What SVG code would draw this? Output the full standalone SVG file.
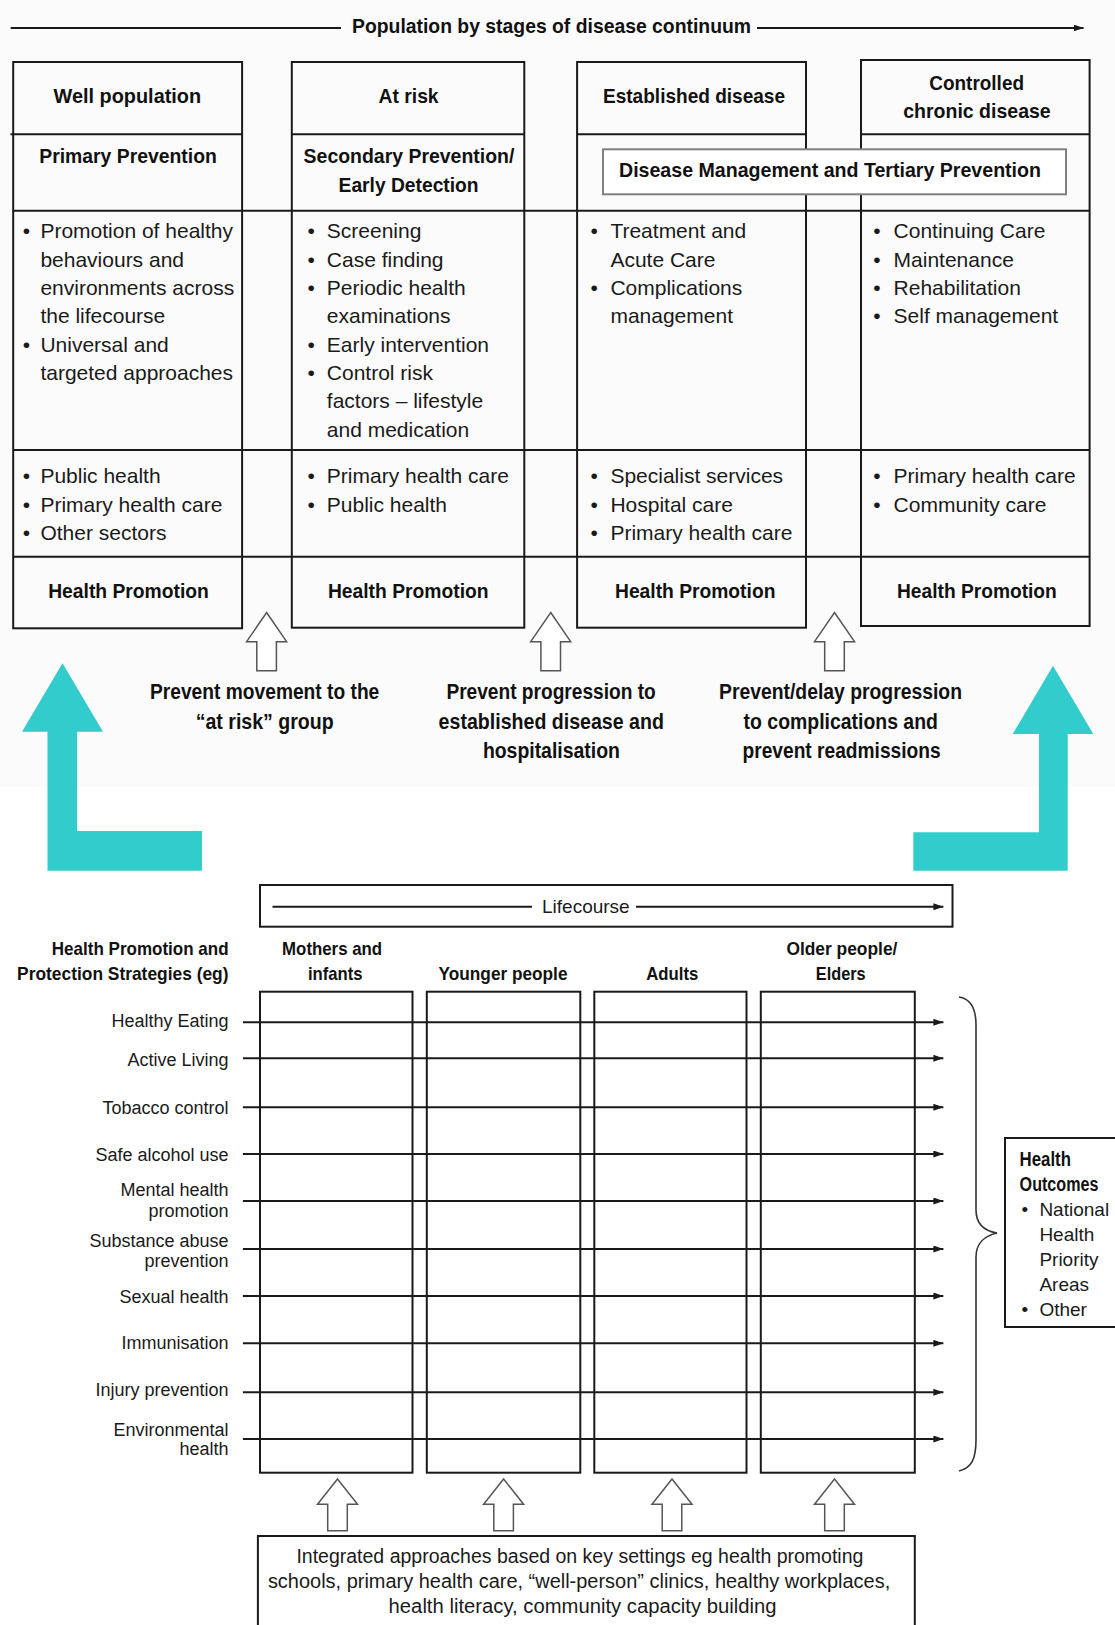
<svg xmlns="http://www.w3.org/2000/svg" width="1115" height="1625" viewBox="0 0 1115 1625">
<style>
.h{font-family:"Liberation Sans Narrow","Liberation Sans",Arial,sans-serif;font-weight:bold;fill:#111}
.b{font-family:"Liberation Sans",Arial,sans-serif;fill:#1a1a1a}
.t21{font-size:21px}
.t22{font-size:22px}
.t19{font-size:19px}
.t18{font-size:18px}
.box{fill:none;stroke:#1a1a1a;stroke-width:2}
.ln{fill:none;stroke:#1a1a1a;stroke-width:2}
.hollow{fill:#fff;stroke:#555;stroke-width:1.5;stroke-linejoin:miter}
.teal{fill:#33cccc}
</style>
<defs>
<marker id="ah" markerUnits="userSpaceOnUse" markerWidth="11" markerHeight="8" refX="10" refY="3.5" orient="auto">
<path d="M0,0 L10,3.5 L0,7 z" fill="#1a1a1a"/>
</marker>
</defs>
<rect x="0" y="0" width="1115" height="787" fill="#fbfbfb"/>
<rect x="0" y="787" width="1115" height="838" fill="#ffffff"/>

<g id="continuum-title">
<text class="h t21" x="352" y="33.3" textLength="399" lengthAdjust="spacingAndGlyphs">Population by stages of disease continuum</text>
</g>

<g id="col-well">
<rect class="box" x="13.2" y="62" width="228.9" height="566.3"/>
<line class="ln" x1="10.5" y1="134.3" x2="242.1" y2="134.3"/>
<text class="h t21" x="53.6" y="103.3" textLength="147.5" lengthAdjust="spacingAndGlyphs">Well population</text>
<text class="h t21" x="39.3" y="163.3" textLength="177.5" lengthAdjust="spacingAndGlyphs">Primary Prevention</text>
<text class="b t21"><tspan x="22.8" y="238.3">•</tspan><tspan x="40.4" y="238.3">Promotion of healthy</tspan><tspan x="40.4" y="266.7">behaviours and</tspan><tspan x="40.4" y="295">environments across</tspan><tspan x="40.4" y="323.3">the lifecourse</tspan><tspan x="22.8" y="351.7">•</tspan><tspan x="40.4" y="351.7">Universal and</tspan><tspan x="40.4" y="380">targeted approaches</tspan></text>
<text class="b t21"><tspan x="22.8" y="483.3">•</tspan><tspan x="40.4" y="483.3">Public health</tspan><tspan x="22.8" y="511.7">•</tspan><tspan x="40.4" y="511.7">Primary health care</tspan><tspan x="22.8" y="540">•</tspan><tspan x="40.4" y="540">Other sectors</tspan></text>
<text class="h t21" x="48.2" y="598.3" textLength="160.7" lengthAdjust="spacingAndGlyphs">Health Promotion</text>
</g>

<g id="col-atrisk">
<rect class="box" x="291.8" y="62" width="232.5" height="565.7"/>
<line class="ln" x1="291.8" y1="134.3" x2="524.3" y2="134.3"/>
<text class="h t21" x="378.6" y="103.3" textLength="60" lengthAdjust="spacingAndGlyphs">At risk</text>
<text class="h t21" x="303.6" y="163.3" textLength="210.7" lengthAdjust="spacingAndGlyphs">Secondary Prevention/</text>
<text class="h t21" x="338.6" y="191.7" textLength="140" lengthAdjust="spacingAndGlyphs">Early Detection</text>
<text class="b t21"><tspan x="307.5" y="238.3">•</tspan><tspan x="326.8" y="238.3">Screening</tspan><tspan x="307.5" y="266.7">•</tspan><tspan x="326.8" y="266.7">Case finding</tspan><tspan x="307.5" y="295">•</tspan><tspan x="326.8" y="295">Periodic health</tspan><tspan x="326.8" y="323.3">examinations</tspan><tspan x="307.5" y="351.7">•</tspan><tspan x="326.8" y="351.7">Early intervention</tspan><tspan x="307.5" y="380">•</tspan><tspan x="326.8" y="380">Control risk</tspan><tspan x="326.8" y="408.3">factors – lifestyle</tspan><tspan x="326.8" y="436.7">and medication</tspan></text>
<text class="b t21"><tspan x="307.5" y="483.3">•</tspan><tspan x="326.8" y="483.3">Primary health care</tspan><tspan x="307.5" y="511.7">•</tspan><tspan x="326.8" y="511.7">Public health</tspan></text>
<text class="h t21" x="327.9" y="598.3" textLength="160.7" lengthAdjust="spacingAndGlyphs">Health Promotion</text>
</g>

<g id="col-established">
<rect class="box" x="577.1" y="62" width="228.9" height="565.7"/>
<line class="ln" x1="577.1" y1="134.3" x2="806" y2="134.3"/>
<text class="h t21" x="603" y="103.3" textLength="182" lengthAdjust="spacingAndGlyphs">Established disease</text>
<text class="b t21"><tspan x="590.5" y="238.3">•</tspan><tspan x="610.4" y="238.3">Treatment and</tspan><tspan x="610.4" y="266.7">Acute Care</tspan><tspan x="590.5" y="295">•</tspan><tspan x="610.4" y="295">Complications</tspan><tspan x="610.4" y="323.3">management</tspan></text>
<text class="b t21"><tspan x="590.5" y="483.3">•</tspan><tspan x="610.4" y="483.3">Specialist services</tspan><tspan x="590.5" y="511.7">•</tspan><tspan x="610.4" y="511.7">Hospital care</tspan><tspan x="590.5" y="540">•</tspan><tspan x="610.4" y="540">Primary health care</tspan></text>
<text class="h t21" x="615" y="598.3" textLength="160.4" lengthAdjust="spacingAndGlyphs">Health Promotion</text>
</g>

<g id="col-controlled">
<rect class="box" x="861" y="60" width="228.6" height="566"/>
<line class="ln" x1="861" y1="134.3" x2="1089.6" y2="134.3"/>
<text class="h t21" x="929.3" y="90" textLength="94.7" lengthAdjust="spacingAndGlyphs">Controlled</text>
<text class="h t21" x="903.2" y="118.3" textLength="147.5" lengthAdjust="spacingAndGlyphs">chronic disease</text>
<text class="b t21"><tspan x="873.2" y="238.3">•</tspan><tspan x="893.6" y="238.3">Continuing Care</tspan><tspan x="873.2" y="266.7">•</tspan><tspan x="893.6" y="266.7">Maintenance</tspan><tspan x="873.2" y="295">•</tspan><tspan x="893.6" y="295">Rehabilitation</tspan><tspan x="873.2" y="323.3">•</tspan><tspan x="893.6" y="323.3">Self management</tspan></text>
<text class="b t21"><tspan x="873.2" y="483.3">•</tspan><tspan x="893.6" y="483.3">Primary health care</tspan><tspan x="873.2" y="511.7">•</tspan><tspan x="893.6" y="511.7">Community care</tspan></text>
<text class="h t21" x="897" y="598.3" textLength="159.8" lengthAdjust="spacingAndGlyphs">Health Promotion</text>
</g>

<g id="row-lines">
<line class="ln" x1="13.2" y1="210.7" x2="1089.6" y2="210.7"/>
<line class="ln" x1="13.2" y1="450" x2="1089.6" y2="450"/>
<line class="ln" x1="13.2" y1="556.7" x2="1089.6" y2="556.7"/>
</g>

<g id="disease-management">
<rect x="603" y="149.3" width="463" height="45" fill="#fff" stroke="#808080" stroke-width="2"/>
<text class="h t21" x="619" y="176.7" textLength="422" lengthAdjust="spacingAndGlyphs">Disease Management and Tertiary Prevention</text>
</g>

<g id="labels-prevent">
<text class="h t22" x="150" y="699" textLength="229.3" lengthAdjust="spacingAndGlyphs">Prevent movement to the</text>
<text class="h t22" x="195.7" y="729" textLength="138" lengthAdjust="spacingAndGlyphs">“at risk” group</text>
<text class="h t22" x="446.4" y="699" textLength="209.3" lengthAdjust="spacingAndGlyphs">Prevent progression to</text>
<text class="h t22" x="438.6" y="729" textLength="225.3" lengthAdjust="spacingAndGlyphs">established disease and</text>
<text class="h t22" x="482.9" y="758" textLength="137" lengthAdjust="spacingAndGlyphs">hospitalisation</text>
<text class="h t22" x="719" y="699" textLength="243" lengthAdjust="spacingAndGlyphs">Prevent/delay progression</text>
<text class="h t22" x="743.6" y="729" textLength="194.3" lengthAdjust="spacingAndGlyphs">to complications and</text>
<text class="h t22" x="742.5" y="758" textLength="198.2" lengthAdjust="spacingAndGlyphs">prevent readmissions</text>
</g>

<g id="lifecourse">
<rect class="box" x="260" y="885" width="692.5" height="41.7"/>
<text class="b t19" x="542" y="913.3">Lifecourse</text>
</g>

<g id="strategy-headers">
<text class="h t19" x="51.8" y="955" textLength="176.8" lengthAdjust="spacingAndGlyphs">Health Promotion and</text>
<text class="h t19" x="17.1" y="979.5" textLength="211.4" lengthAdjust="spacingAndGlyphs">Protection Strategies (eg)</text>
<text class="h t19" x="282.1" y="955" textLength="100" lengthAdjust="spacingAndGlyphs">Mothers and</text>
<text class="h t19" x="307.9" y="979.5" textLength="54.6" lengthAdjust="spacingAndGlyphs">infants</text>
<text class="h t19" x="438.6" y="979.5" textLength="128.9" lengthAdjust="spacingAndGlyphs">Younger people</text>
<text class="h t19" x="646.3" y="979.5" textLength="52" lengthAdjust="spacingAndGlyphs">Adults</text>
<text class="h t19" x="786.4" y="955" textLength="111" lengthAdjust="spacingAndGlyphs">Older people/</text>
<text class="h t19" x="815.8" y="979.5" textLength="49.8" lengthAdjust="spacingAndGlyphs">Elders</text>
</g>

<g id="strategy-labels">
<text class="b t18" text-anchor="end" x="228.6" y="1026.7">Healthy Eating</text>
<text class="b t18" text-anchor="end" x="228.6" y="1066">Active Living</text>
<text class="b t18" text-anchor="end" x="228.6" y="1114.3">Tobacco control</text>
<text class="b t18" text-anchor="end" x="228.6" y="1160.7">Safe alcohol use</text>
<text class="b t18" text-anchor="end"><tspan x="228.6" y="1196">Mental health</tspan><tspan x="228.6" y="1216.7">promotion</tspan></text>
<text class="b t18" text-anchor="end"><tspan x="228.6" y="1246.7">Substance abuse</tspan><tspan x="228.6" y="1266.7">prevention</tspan></text>
<text class="b t18" text-anchor="end" x="228.6" y="1302.7">Sexual health</text>
<text class="b t18" text-anchor="end" x="228.6" y="1349.3">Immunisation</text>
<text class="b t18" text-anchor="end" x="228.6" y="1396">Injury prevention</text>
<text class="b t18" text-anchor="end"><tspan x="228.6" y="1435.7">Environmental</tspan><tspan x="228.6" y="1455">health</tspan></text>
</g>

<g id="grid-mothers"><rect class="box" x="260" y="991.7" width="152.5" height="481"/></g>
<g id="grid-younger"><rect class="box" x="426.8" y="991.7" width="153.5" height="481"/></g>
<g id="grid-adults"><rect class="box" x="594.3" y="991.7" width="152.2" height="481"/></g>
<g id="grid-older"><rect class="box" x="760.8" y="991.7" width="154" height="481"/></g>

<g id="health-outcomes">
<rect class="box" x="1005" y="1138" width="120" height="189"/>
<text class="h" font-size="20" x="1019.6" y="1166" textLength="51.3" lengthAdjust="spacingAndGlyphs">Health</text>
<text class="h" font-size="20" x="1019.6" y="1191" textLength="78.8" lengthAdjust="spacingAndGlyphs">Outcomes</text>
<text class="b t19"><tspan x="1021.5" y="1216">•</tspan><tspan x="1039.4" y="1216">National</tspan><tspan x="1039.4" y="1241">Health</tspan><tspan x="1039.4" y="1266">Priority</tspan><tspan x="1039.4" y="1291">Areas</tspan><tspan x="1021.5" y="1316">•</tspan><tspan x="1039.4" y="1316">Other</tspan></text>
</g>

<g id="settings">
<rect class="box" x="257.9" y="1536" width="656.9" height="100"/>
<text class="b" font-size="19.5" x="296.4" y="1563.3" textLength="567" lengthAdjust="spacingAndGlyphs">Integrated approaches based on key settings eg health promoting</text>
<text class="b" font-size="19.5" x="267.9" y="1588.3" textLength="622.3" lengthAdjust="spacingAndGlyphs">schools, primary health care, “well-person” clinics, healthy workplaces,</text>
<text class="b" font-size="19.5" x="388.6" y="1613.3" textLength="387.9" lengthAdjust="spacingAndGlyphs">health literacy, community capacity building</text>
</g>

<g id="connectors">
<line class="ln" x1="10.7" y1="28" x2="341" y2="28" stroke-width="1.8"/>
<line class="ln" x1="757" y1="28" x2="1083.6" y2="28" stroke-width="1.8" marker-end="url(#ah)"/>
<line class="ln" x1="272.5" y1="906.7" x2="532" y2="906.7" stroke-width="1.6"/>
<line class="ln" x1="636" y1="906.7" x2="943.4" y2="906.7" stroke-width="1.6" marker-end="url(#ah)"/>
<g stroke-width="2">
<line class="ln" x1="242.9" y1="1022.3" x2="943.4" y2="1022.3" marker-end="url(#ah)"/>
<line class="ln" x1="242.9" y1="1058.3" x2="943.4" y2="1058.3" marker-end="url(#ah)"/>
<line class="ln" x1="242.9" y1="1107.3" x2="943.4" y2="1107.3" marker-end="url(#ah)"/>
<line class="ln" x1="242.9" y1="1154" x2="943.4" y2="1154" marker-end="url(#ah)"/>
<line class="ln" x1="242.9" y1="1201" x2="943.4" y2="1201" marker-end="url(#ah)"/>
<line class="ln" x1="242.9" y1="1249" x2="943.4" y2="1249" marker-end="url(#ah)"/>
<line class="ln" x1="242.9" y1="1296" x2="943.4" y2="1296" marker-end="url(#ah)"/>
<line class="ln" x1="242.9" y1="1343.3" x2="943.4" y2="1343.3" marker-end="url(#ah)"/>
<line class="ln" x1="242.9" y1="1392.3" x2="943.4" y2="1392.3" marker-end="url(#ah)"/>
<line class="ln" x1="242.9" y1="1439" x2="943.4" y2="1439" marker-end="url(#ah)"/>
</g>
<path d="M959,997 C972,999 976,1010 976,1025 L976,1210 C976,1225 985,1231 997,1233 C985,1236 976,1242 976,1257 L976,1440 C976,1458 972,1468 959,1471" fill="none" stroke="#333" stroke-width="1.6"/>
<polygon class="hollow" points="266.6,612.5 286.6,641.7 276.4,641.7 276.4,670.7 256.8,670.7 256.8,641.7 246.6,641.7"/>
<polygon class="hollow" points="550.7,612.5 570.7,641.7 560.5,641.7 560.5,670.7 540.9,670.7 540.9,641.7 530.7,641.7"/>
<polygon class="hollow" points="834.5,612.5 854.5,641.7 844.3,641.7 844.3,670.7 824.7,670.7 824.7,641.7 814.5,641.7"/>
<polygon class="hollow" points="337.5,1479 357.5,1504.3 347.3,1504.3 347.3,1530.7 327.7,1530.7 327.7,1504.3 317.5,1504.3"/>
<polygon class="hollow" points="503.6,1479 523.6,1504.3 513.4,1504.3 513.4,1530.7 493.8,1530.7 493.8,1504.3 483.6,1504.3"/>
<polygon class="hollow" points="672,1479 692,1504.3 681.8,1504.3 681.8,1530.7 662.2,1530.7 662.2,1504.3 652,1504.3"/>
<polygon class="hollow" points="834.5,1479 854.5,1504.3 844.3,1504.3 844.3,1530.7 824.7,1530.7 824.7,1504.3 814.5,1504.3"/>
<polygon class="teal" points="62.5,663.3 103,731.7 77.1,731.7 77.1,831 202,831 202,870.7 47.5,870.7 47.5,731.7 22,731.7"/>
<polygon class="teal" points="1053,665.7 1093.3,734 1067.7,734 1067.7,870.7 913.3,870.7 913.3,832.3 1039,832.3 1039,734 1012.7,734"/>
</g>
</svg>
